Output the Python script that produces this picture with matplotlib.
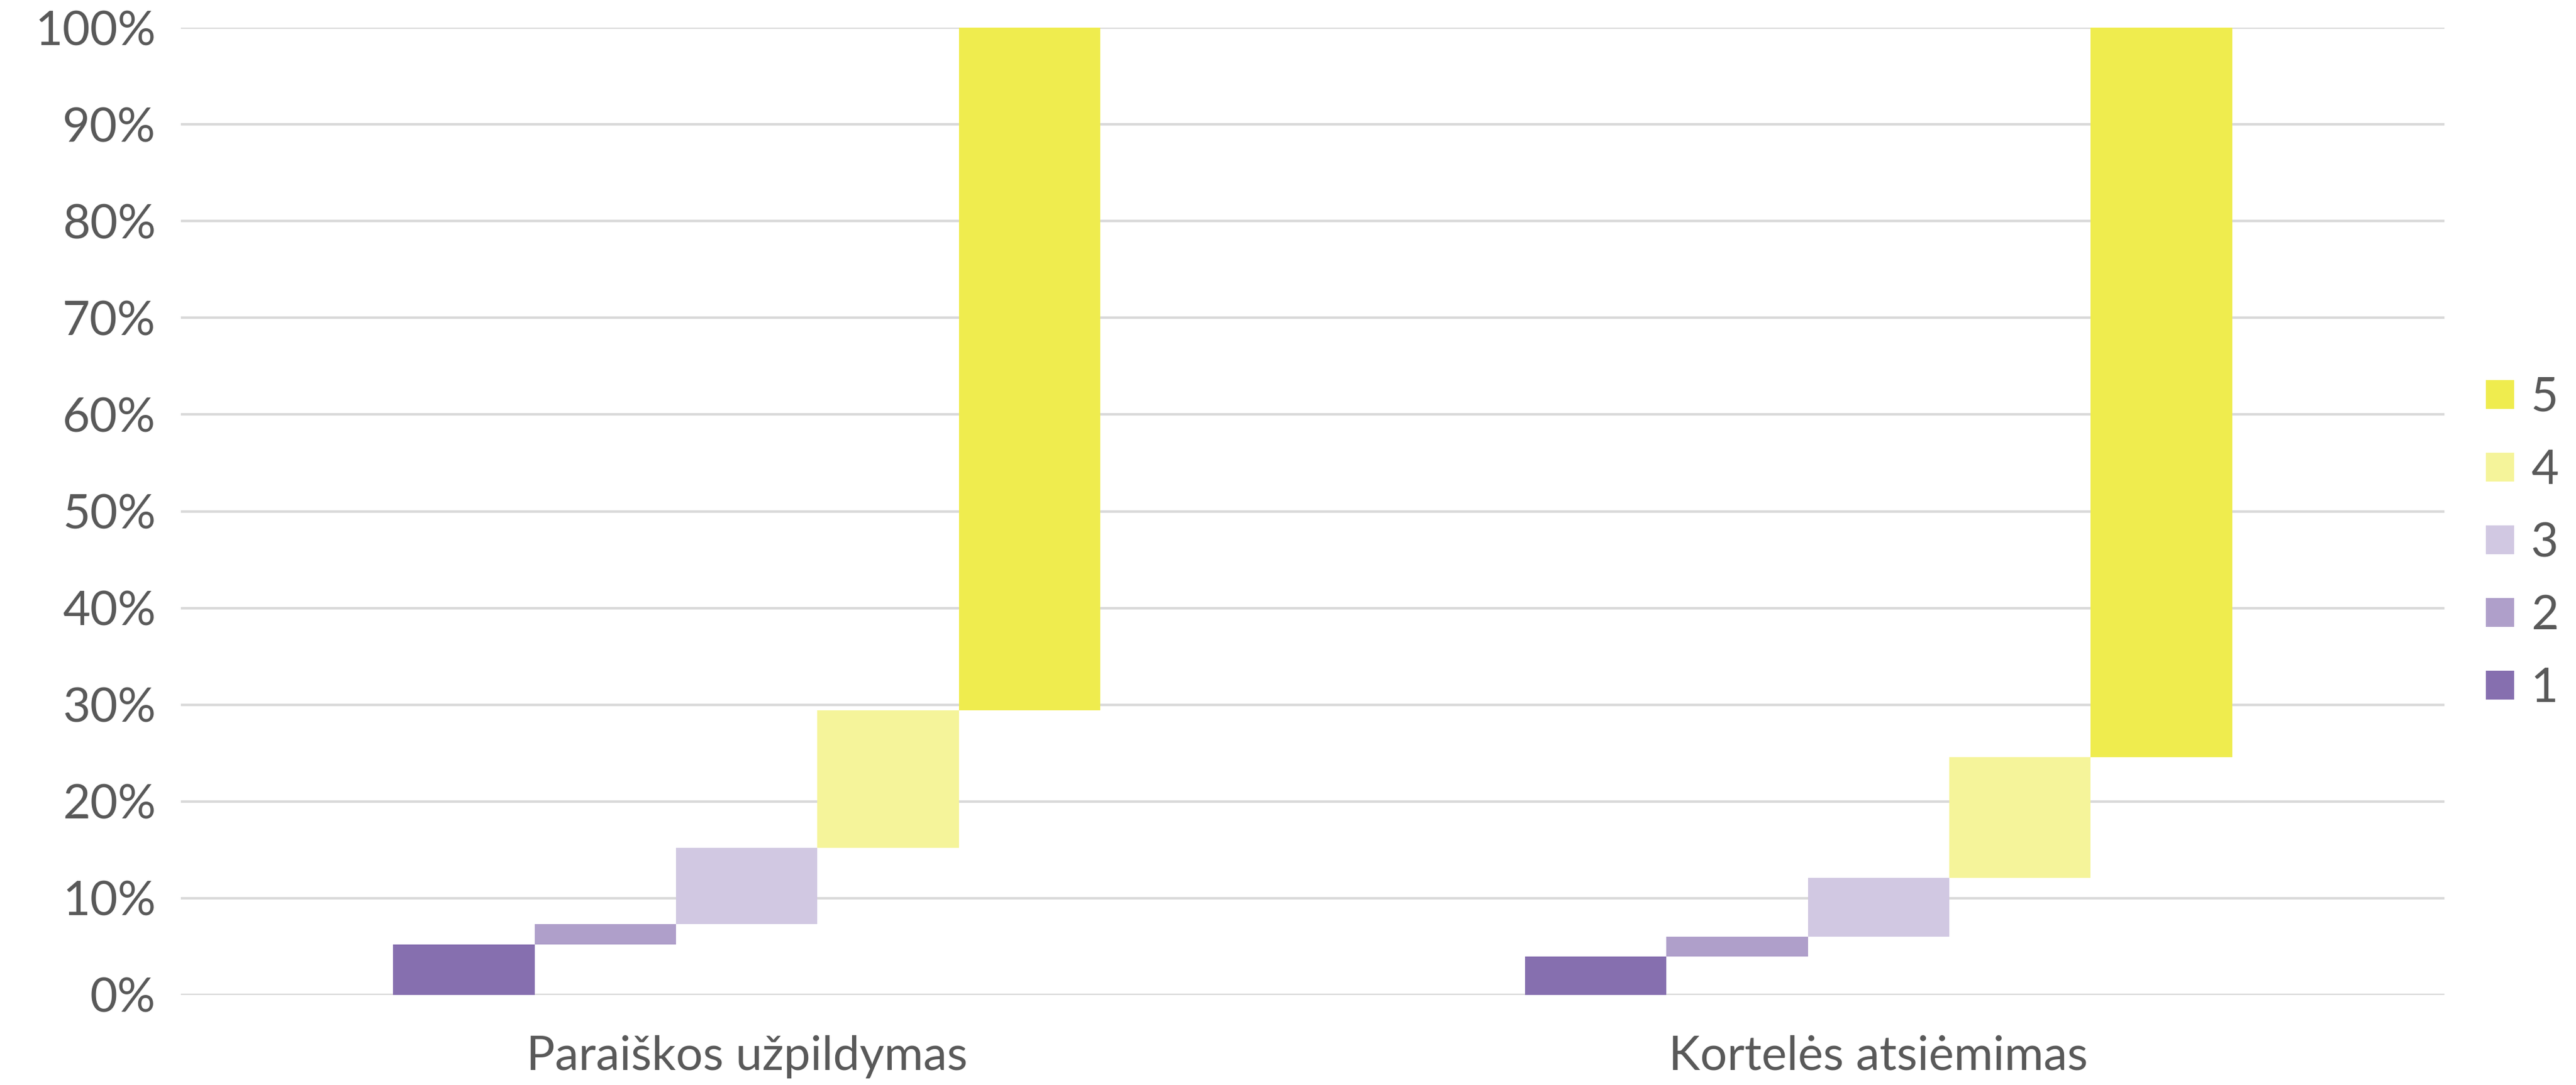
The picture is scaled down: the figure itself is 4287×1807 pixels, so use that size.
import numpy as np
import matplotlib.pyplot as plt
from matplotlib.ticker import PercentFormatter

# Data (shares in %)
categories = ['Paraiškos užpildymas', 'Kortelės atsiėmimas']
series_names = ['1', '2', '3', '4', '5']
values = {
	'1': [5.2, 4.0],
	'2': [2.1, 2.0],
	'3': [7.9, 6.1],
	'4': [14.2, 12.5],
	'5': [70.6, 75.4],
}
colors = ['#866FAF', '#AF9FCA', '#D1C8E2', '#F5F49A', '#EFEC4E']

plt.rcParams['font.family'] = ['Lato', 'DejaVu Sans']
text_color = '#595959'
fsize = 19

fig = plt.figure(figsize=(4287 / 300, 1807 / 300), dpi=300)
ax = fig.add_axes([301 / 4287, 1 - 1657 / 1807, (4068 - 301) / 4287, (1657 - 46) / 1807])

x = np.arange(len(categories))
width = 0.125
bottom = np.zeros(len(categories))
for i, name in enumerate(series_names):
	vals = np.array(values[name])
	ax.bar(x + (i - 2) * width, vals, width, bottom=bottom, color=colors[i],
		label=name, linewidth=0, zorder=3)
	bottom = bottom + vals

ax.set_xlim(-0.5, len(categories) - 0.5)
ax.set_ylim(0, 100)
ax.set_yticks(np.arange(0, 101, 10))
ax.yaxis.set_major_formatter(PercentFormatter(decimals=0))
ax.set_xticks(x)
ax.set_xticklabels(categories)
ax.grid(axis='y', color='#D9D9D9', linewidth=1.0, zorder=0)
for s in ax.spines.values():
	s.set_visible(False)
ax.tick_params(axis='both', length=0, labelsize=fsize, colors=text_color)
ax.tick_params(axis='x', pad=16)
ax.tick_params(axis='y', pad=10)

handles, labels = ax.get_legend_handles_labels()
leg = fig.legend(handles[::-1], labels[::-1], loc='center left',
	bbox_to_anchor=(4097 / 4287, 1 - 905 / 1807), frameon=False,
	fontsize=fsize, handlelength=0.6, handleheight=0.55, handletextpad=0.35,
	labelspacing=0.62, labelcolor=text_color, borderpad=0)

fig.savefig('out.png', dpi=300, facecolor='white')
